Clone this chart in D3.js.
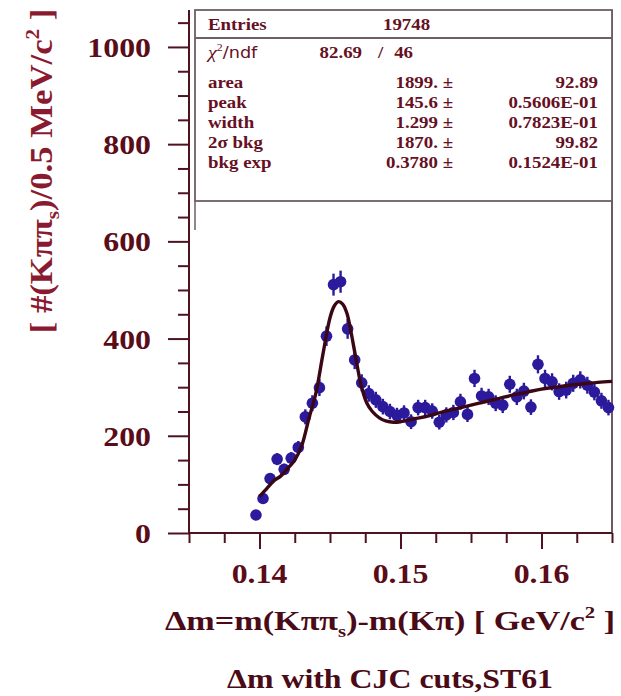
<!DOCTYPE html>
<html><head><meta charset="utf-8">
<script src="https://cdn.jsdelivr.net/npm/d3@7"></script>
<style>body{margin:0;background:#fff}svg{display:block}</style>
</head><body><svg id="c" width="621" height="696"></svg>
<script>
// ---- data ----
const massBins = [0.13975,0.14025,0.14075,0.14125,0.14175,0.14225,0.14275,0.14325,0.14375,0.14425,
  0.14475,0.14525,0.14575,0.14625,0.14675,0.14725,0.14775,0.14825,0.14875,0.14925,
  0.14975,0.15025,0.15075,0.15125,0.15175,0.15225,0.15275,0.15325,0.15375,0.15425,
  0.15475,0.15525,0.15575,0.15625,0.15675,0.15725,0.15775,0.15825,0.15875,0.15925,
  0.15975,0.16025,0.16075,0.16125,0.16175,0.16225,0.16275,0.16325,0.16375,0.16425,0.16475];
const counts = [37,71,112,152,131,154,176,239,267,299,
  405,511,517,420,356,309,287,274,260,250,
  242,247,229,258,258,251,228,243,248,270,
  244,318,282,280,267,263,306,280,292,259,
  347,318,311,291,294,308,315,304,290,272,258];
const fitX = [0.1400,0.1405,0.1410,0.1415,0.1420,0.1425,0.1430,0.1435,0.1440,0.1445,0.1450,0.1453,0.1456,0.1459,
  0.1462,0.1465,0.1468,0.1472,0.1476,0.1480,0.1485,0.1490,0.1495,0.1500,0.1510,0.1520,0.1530,0.1540,0.1550,
  0.1560,0.1570,0.1580,0.1590,0.1600,0.1610,0.1620,0.1630,0.1640,0.1650];
const fitY = [75,91,107,117,133,150,180,235,288,368,443,467,476,471,
  452,412,365,305,268,250,237,230,228,229,235,241,249,256,263,
  270,277,284,290,296,300,304,307,310,312];
const yMajorTicks = [0,200,400,600,800,1000];
const yMinorTicks = [50,100,150,250,300,350,450,500,550,650,700,750,850,900,950,1050];
const xMajorTicks = [0.14,0.15,0.16];
const xMinorTicks = [0.135,0.1375,0.1425,0.145,0.1475,0.1525,0.155,0.1575,0.1625,0.165];
const xTickLabels = ["0.14","0.15","0.16"];
const entriesValue = "19748";
const chi2Value = "82.69", ndfValue = "46";
const statNames = ["area","peak","width","2σ bkg","bkg exp"];
const statValues = ["1899. ±","145.6 ±","1.299 ±","1870. ±","0.3780 ±"];
const statErrors = ["92.89","0.5606E-01","0.7823E-01","99.82","0.1524E-01"];

// ---- drawing ----
const svg = d3.select("#c");
const SX = 1.18;
const serif = "'Liberation Serif','Times New Roman',serif";
const x = d3.scaleLinear().domain([0.135,0.165]).range([189,612]);
const y = d3.scaleLinear().domain([0,1076]).range([533,10]);
const axisCol = "#4e1220", tickCol = "#5a0c18";

function stext(g, px, py, str, anchor, size, color, weight){
  return g.append("text").attr("transform",`translate(${px},${py}) scale(${SX},1)`)
    .attr("text-anchor",anchor).attr("font-family",serif).attr("font-size",size)
    .attr("font-weight",weight||"bold").attr("fill",color).text(str);
}

// right frame line
svg.append("line").attr("x1",x(0.165)).attr("x2",x(0.165)).attr("y1",y(1076)).attr("y2",y(0))
  .attr("stroke","#6a5a62").attr("stroke-width",2);

// axes via d3
function styleAxis(g){ g.selectAll("line").attr("stroke",axisCol).attr("stroke-width",2); g.select(".domain").remove(); }
svg.append("g").attr("transform",`translate(${x(0.135)},0)`)
  .call(d3.axisLeft(y).tickValues(yMinorTicks).tickSize(11).tickFormat("")).call(styleAxis);
svg.append("g").attr("transform",`translate(${x(0.135)},0)`)
  .call(d3.axisLeft(y).tickValues(yMajorTicks).tickSize(21).tickFormat("")).call(styleAxis);
svg.append("g").attr("transform",`translate(0,${y(0)})`)
  .call(d3.axisBottom(x).tickValues(xMinorTicks).tickSize(10).tickFormat("")).call(styleAxis);
svg.append("g").attr("transform",`translate(0,${y(0)})`)
  .call(d3.axisBottom(x).tickValues(xMajorTicks).tickSize(16).tickFormat("")).call(styleAxis);
svg.append("line").attr("x1",x(0.135)).attr("x2",x(0.135)).attr("y1",y(1076)).attr("y2",y(0))
  .attr("stroke",axisCol).attr("stroke-width",2);
svg.append("line").attr("x1",x(0.135)).attr("x2",x(0.165)).attr("y1",y(0)).attr("y2",y(0))
  .attr("stroke",axisCol).attr("stroke-width",2);

// tick labels
yMajorTicks.forEach(v => stext(svg, 151, y(v)+10, String(v), "end", 27, tickCol));
xMajorTicks.forEach((v,i) => stext(svg, x(v), 583, xTickLabels[i], "middle", 27, tickCol));

// stats box
const bx0 = 195, bx1 = x(0.165), by0 = 10, by1 = 201;
const boxCol = "#6e5e66";
svg.append("rect").attr("x",bx0).attr("y",by0).attr("width",bx1-bx0).attr("height",by1-by0)
  .attr("fill","#fff").attr("stroke",boxCol).attr("stroke-width",1.8);
svg.append("line").attr("x1",bx0).attr("x2",bx1).attr("y1",38).attr("y2",38).attr("stroke",boxCol).attr("stroke-width",1.8);
svg.append("line").attr("x1",bx0).attr("x2",bx0).attr("y1",by1).attr("y2",230).attr("stroke",boxCol).attr("stroke-width",1.5);
const stCol = "#661024";
stext(svg, 208, 30, "Entries", "start", 16, stCol);
stext(svg, 383, 30, entriesValue, "start", 16, stCol);
const chi = stext(svg, 208, 58, "", "start", 17, stCol, "normal");
chi.append("tspan").attr("font-style","italic").text("χ");
chi.append("tspan").attr("dy",-7).attr("font-size",10).text("2");
chi.append("tspan").attr("dy",7).attr("font-family","'DejaVu Sans',sans-serif").attr("font-size",15).text("/ndf");
stext(svg, 362, 58, chi2Value, "end", 16, stCol);
stext(svg, 378, 58, "/", "start", 16, stCol);
stext(svg, 413, 58, ndfValue, "end", 16, stCol);
const rowY = [88,108,128,148,168];
statNames.forEach((n,i) => {
  stext(svg, 208, rowY[i], n, "start", 16, stCol);
  stext(svg, 453, rowY[i], statValues[i], "end", 16, stCol);
  stext(svg, 598, rowY[i], statErrors[i], "end", 16, stCol);
});

// data points with error bars
const ptCol = "#2c1a9c";
const pts = svg.append("g");
massBins.forEach((m,i) => {
  const e = Math.sqrt(counts[i]);
  pts.append("line").attr("x1",x(m)).attr("x2",x(m)).attr("y1",y(counts[i]-e)).attr("y2",y(counts[i]+e))
    .attr("stroke",ptCol).attr("stroke-width",2.4);
  pts.append("circle").attr("cx",x(m)).attr("cy",y(counts[i])).attr("r",5.8).attr("fill",ptCol);
});

// fit curve
const line = d3.line().x((d,i)=>x(fitX[i])).y((d,i)=>y(fitY[i])).curve(d3.curveCatmullRom.alpha(0.5));
svg.append("path").attr("d",line(fitX)).attr("fill","none").attr("stroke","#3a0814").attr("stroke-width",3.4);

// y label (rotated; stretched along its length)
const yl = svg.append("text").attr("transform",`translate(52,171) rotate(-90) scale(1.24,1.1)`)
  .attr("text-anchor","middle").attr("font-family",serif).attr("font-size",28).attr("font-weight","bold").attr("fill","#8a1a30");
yl.append("tspan").text("[ #(Kππ");
yl.append("tspan").attr("font-size",17).attr("dy",6).text("s");
yl.append("tspan").attr("dy",-6).text(")/0.5 MeV/c");
yl.append("tspan").attr("font-size",17).attr("dy",-12).text("2");
yl.append("tspan").attr("dy",12).text(" ]");

// x label
const xl = svg.append("text").attr("transform",`translate(390,630) scale(1.22,1)`)
  .attr("text-anchor","middle").attr("font-family",serif).attr("font-size",28).attr("font-weight","bold").attr("fill","#4a0a16");
xl.append("tspan").text("Δm=m(Kππ");
xl.append("tspan").attr("font-size",17).attr("dy",7).text("s");
xl.append("tspan").attr("dy",-7).text(")-m(Kπ) [ GeV/c");
xl.append("tspan").attr("font-size",17).attr("dy",-12).text("2");
xl.append("tspan").attr("dy",12).text(" ]");

// title
stext(svg, 390, 688, "Δm with CJC cuts,ST61", "middle", 27, "#4a0a16");
</script></body></html>
